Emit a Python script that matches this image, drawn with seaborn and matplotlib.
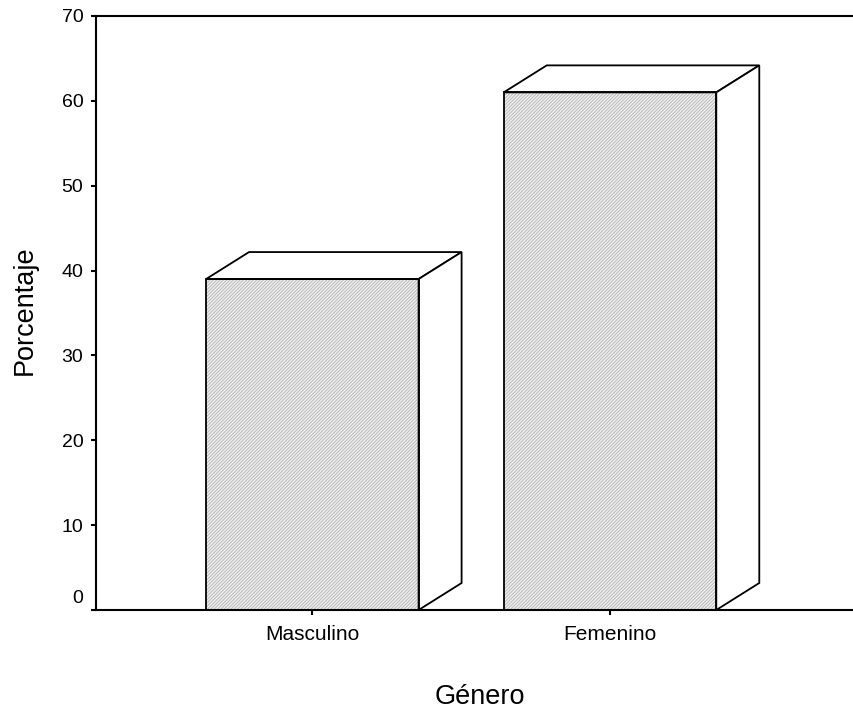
import matplotlib
matplotlib.use("Agg")
import matplotlib.pyplot as plt
import seaborn as sns
import numpy as np
from matplotlib.patches import Polygon, Rectangle
from matplotlib.transforms import ScaledTranslation

categories = ["Masculino", "Femenino"]
values = [39.0, 61.0]
yticks = [0, 10, 20, 30, 40, 50, 60, 70]
xlabel = "Género"
ylabel = "Porcentaje"

sns.set_theme(style="white")
plt.rcParams["font.family"] = ["Liberation Sans", "DejaVu Sans"]
plt.rcParams["hatch.linewidth"] = 0.6
plt.rcParams["text.color"] = "black"
plt.rcParams["axes.labelcolor"] = "black"
plt.rcParams["xtick.color"] = "black"
plt.rcParams["ytick.color"] = "black"

fig = plt.figure(figsize=(8.54, 7.11), dpi=100)
ax = fig.add_axes([96.5 / 854, 1 - 610 / 711, 1 - 96.5 / 854, (610 - 16) / 711])

sns.barplot(x=categories, y=values, ax=ax, color="#eeeeee", saturation=1,
            width=0.714, edgecolor="#b4b4b4", linewidth=0, hatch="//////////")

ax.set_xlim(-0.725, 1.8196)
ax.set_ylim(0, 70)
ax.set_yticks(yticks)
ax.set_yticklabels([str(t) for t in yticks])

# 3D faces derived from the bars drawn by seaborn
fig.canvas.draw()
dx_px, dy_px = 43, 27
inv = ax.transData.inverted()
for p in list(ax.patches):
    x0, y0 = p.get_x(), p.get_y()
    x1, y1 = x0 + p.get_width(), y0 + p.get_height()
    ax.add_patch(Rectangle((x0, y0), p.get_width(), p.get_height(), fill=False,
                           ec="black", lw=1.3, zorder=4, clip_on=False))
    def back(x, y):
        d = ax.transData.transform((x, y))
        return inv.transform((d[0] + dx_px, d[1] + dy_px))
    top = [(x0, y1), (x1, y1), tuple(back(x1, y1)), tuple(back(x0, y1))]
    side = [(x1, y0), tuple(back(x1, y0)), tuple(back(x1, y1)), (x1, y1)]
    for poly in (top, side):
        ax.add_patch(Polygon(poly, closed=True, fc="white", ec="black", lw=1.3,
                             zorder=3, clip_on=False, joinstyle="miter"))

for s in ["left", "bottom", "top"]:
    ax.spines[s].set_visible(True)
    ax.spines[s].set_color("black")
    ax.spines[s].set_linewidth(1.5)
ax.spines["right"].set_visible(False)
ax.spines["left"].set_zorder(5)
ax.spines["bottom"].set_zorder(5)

ax.tick_params(axis="both", which="major", direction="out", length=3.5, width=1.5,
               color="black", labelcolor="black", left=True, bottom=True)
ax.tick_params(axis="y", labelsize=14, pad=6)
ax.tick_params(axis="x", labelsize=15, pad=7)

lab0 = ax.yaxis.get_major_ticks()[0].label1
lab0.set_verticalalignment("bottom")
lab0.set_transform(lab0.get_transform() + ScaledTranslation(0, 0.03, fig.dpi_scale_trans))

ax.set_xlabel(xlabel, fontsize=19.5, color="black")
ax.set_ylabel(ylabel, fontsize=19.5, color="black")
ax.xaxis.set_label_coords(0.506, -0.1246)
ax.xaxis.label.set_verticalalignment("top")
ax.yaxis.set_label_coords(-0.0772, 0.505)

fig.savefig("out.png", dpi=100)
